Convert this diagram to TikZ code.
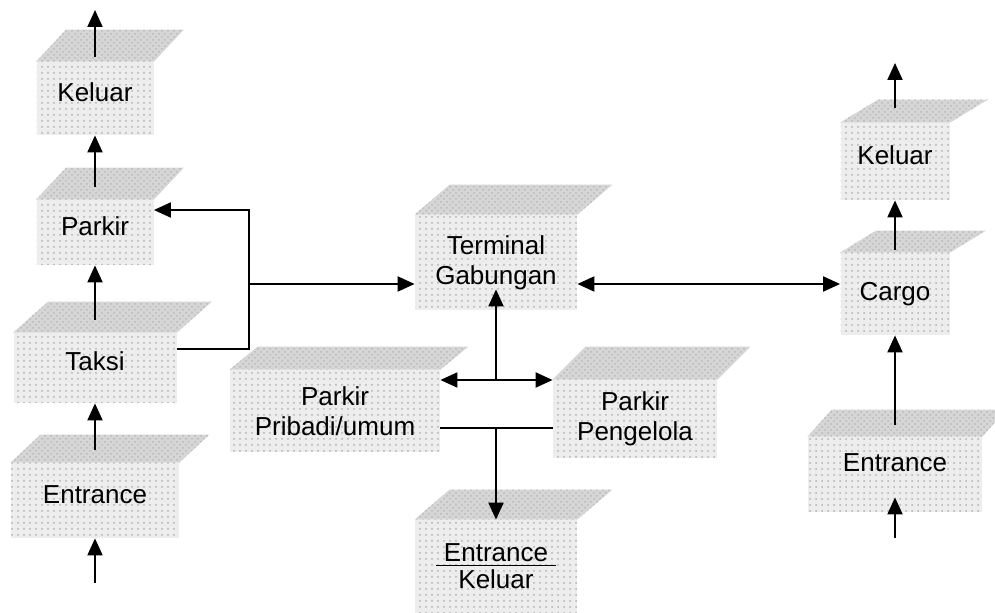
\documentclass[tikz,border=0pt]{standalone}
\usepackage{amsmath}
\usepackage{fontspec}
\setmainfont{Liberation Sans}
\usetikzlibrary{calc,arrows.meta,patterns}
\definecolor{ptop}{gray}{0.84}
\definecolor{pfront}{gray}{0.93}

% top face of a slab: node, shift right, shift up
\newcommand{\topface}[3]{%
  \fill[ptop,postaction={pattern=crosshatch dots,pattern color=gray!55}]
    (#1.north west) -- (#1.north east) -- ++(#2,-#3)
    -- ($(#1.north west)+(#2,-#3)$) -- cycle;}

\begin{document}
\begin{tikzpicture}[x=0.5pt,y=-0.5pt,
  font=\fontsize{13}{15}\selectfont,
  slab/.style={fill=pfront,inner sep=0pt,align=center,
    postaction={pattern=dots,pattern color=gray!60}},
  one/.style={text height=9pt,text depth=6pt},
  flow/.style={-{Triangle[length=8.5pt,width=7.5pt]},line width=1pt},
  flowboth/.style={{Triangle[length=8.5pt,width=7.5pt]}-{Triangle[length=8.5pt,width=7.5pt]},line width=1pt},
  wire/.style={line width=1pt}]

\useasboundingbox (0,0) rectangle (995,613);

% left column
\node[slab,one,minimum width=58.5pt,minimum height=36.5pt] (kelA) at (95,98.5) {Keluar};
\node[slab,one,minimum width=58.5pt,minimum height=32.5pt] (parA) at (95,232.5) {Parkir};
\node[slab,one,minimum width=81.5pt,minimum height=35pt] (takA) at (95,368) {Taksi};
\node[slab,one,minimum width=84pt,minimum height=37.5pt] (entA) at (95,500.5) {Entrance};

% middle
\node[slab,minimum width=81pt,minimum height=47.5pt] (term) at (496,262.5) {Terminal\\Gabungan};
\node[slab,minimum width=105pt,minimum height=41pt] (ppri) at (335,411) {Parkir\\Pribadi/umum};
\node[slab,minimum width=82pt,minimum height=39pt] (ppen) at (635,419) {Parkir\\Pengelola};
\node[slab,minimum width=81pt,minimum height=46.5pt] (entKel) at (496,566.5)
  {{\setbox0\hbox{\hspace{4pt}Entrance\hspace{4pt}}\rlap{\rule[-2.3pt]{\wd0}{0.9pt}}\box0}\\[-1.5pt]Keluar};

% right column
\node[slab,one,minimum width=54.5pt,minimum height=38.5pt] (kelB) at (895,161.5) {Keluar};
\node[slab,minimum width=54.5pt,minimum height=41pt] (cargo) at (895,294) {Cargo};
\node[slab,one,text depth=12pt,minimum width=87pt,minimum height=37.5pt] (entB) at (895,474.5) {Entrance};

% top faces
\topface{kelA}{30}{32}
\topface{parA}{30}{32}
\topface{takA}{35}{31}
\topface{entA}{30}{28}
\topface{term}{35}{30}
\topface{ppri}{28}{23}
\topface{ppen}{33}{33}
\topface{entKel}{35}{30}
\topface{kelB}{38}{23}
\topface{cargo}{36}{22}
\topface{entB}{24}{27}

% free ends and bends
\coordinate (inA) at (95,583);
\coordinate (outA) at (95,10);
\coordinate (inB) at (895,538);
\coordinate (outB) at (895,63);
\coordinate (bendL) at (249,349);
\coordinate (bendU) at (249,210);
\coordinate (bendM) at (249,284);
\coordinate (hub) at (496,380);
\coordinate (hub2) at (496,428);

% left flow
\draw[flow] (inA) -- (entA.south);
\foreach \a/\b in {entA/takA,takA/parA,parA/kelA}
  \draw[flow] ($(\a.north)+(0,-13)$) -- (\b.south);
\draw[flow] ($(kelA.north)+(0,-5)$) -- (outA);
\draw[flow] (takA.east |- bendL) -- (bendL) -- (bendU) -- (parA.east |- bendU);
\draw[flow] (bendM) -- (term.west |- bendM);

% middle flow
\draw[flowboth] (term.east |- bendM) -- (cargo.west |- bendM);
\draw[flow] (hub) -- ($(term.south)+(0,-21)$);
\draw[flowboth] (ppri.east |- hub) -- (ppen.west |- hub);
\draw[wire] (ppri.east |- hub2) -- (ppen.west |- hub2);
\draw[flow] (hub2) -- (entKel.north);

% right flow
\draw[flow] (inB) -- ($(entB.south)+(0,-15)$);
\draw[flow] ($(entB.north)+(0,-12)$) -- (cargo.south);
\draw[flow] ($(cargo.north)+(0,-3)$) -- (kelB.south);
\draw[flow] ($(kelB.north)+(0,-15)$) -- (outB);
\end{tikzpicture}
\end{document}
